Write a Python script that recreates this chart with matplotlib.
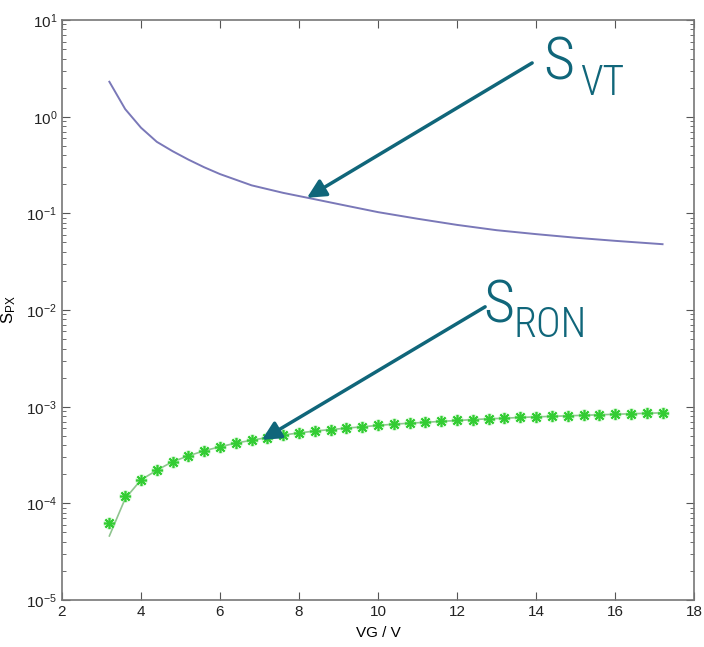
import numpy as np
import matplotlib
matplotlib.use('Agg')
import matplotlib.pyplot as plt
from matplotlib.ticker import LogLocator, NullFormatter

plt.rcParams['font.family'] = ['Liberation Sans', 'DejaVu Sans']

# S_VT curve
vg_vt = [3.2, 3.6, 4.0, 4.4, 4.8, 5.2, 5.6, 6.0, 6.8, 7.6, 8.4, 9.2,
         10.0, 11.0, 12.0, 13.0, 14.0, 15.0, 16.0, 17.2]
s_vt = [2.3, 1.2, 0.77, 0.55, 0.44, 0.36, 0.30, 0.255, 0.195, 0.163, 0.14, 0.12,
        0.103, 0.088, 0.076, 0.067, 0.061, 0.056, 0.052, 0.048]

# S_RON measured points (asterisks) and model line
vg_ron = [3.2, 3.6, 4.0, 4.4, 4.8, 5.2, 5.6, 6.0, 6.4, 6.8, 7.2, 7.6,
          8.0, 8.4, 8.8, 9.2, 9.6, 10.0, 10.4, 10.8, 11.2, 11.6, 12.0, 12.4,
          12.8, 13.2, 13.6, 14.0, 14.4, 14.8, 15.2, 15.6, 16.0, 16.4, 16.8, 17.2]
s_ron_pts = [6.3e-5, 1.2e-4, 1.75e-4, 2.2e-4, 2.7e-4, 3.1e-4, 3.5e-4, 3.85e-4,
             4.2e-4, 4.5e-4, 4.8e-4, 5.1e-4, 5.35e-4, 5.6e-4, 5.8e-4, 6.0e-4,
             6.2e-4, 6.4e-4, 6.6e-4, 6.75e-4, 6.9e-4, 7.05e-4, 7.2e-4, 7.35e-4,
             7.5e-4, 7.6e-4, 7.75e-4, 7.85e-4, 7.95e-4, 8.05e-4, 8.15e-4, 8.25e-4,
             8.35e-4, 8.45e-4, 8.55e-4, 8.65e-4]
s_ron_line = [4.6e-5, 1.12e-4] + s_ron_pts[2:]

x_ticks = [2, 4, 6, 8, 10, 12, 14, 16, 18]

fig = plt.figure(figsize=(7.04, 6.47), dpi=100)
ax = fig.add_axes([0.088, 0.0726, 0.898, 0.8964])

ax.plot(vg_vt, s_vt, color='#7a78b8', lw=1.4)
ax.plot(vg_ron, s_ron_line, color='#8fc48f', lw=1.2)
# soft glow behind the asterisks
ax.plot(vg_ron, s_ron_pts, ls='none', marker='o', ms=9, color='#8fec8f',
        alpha=0.35, mec='none')
ax.plot(vg_ron, s_ron_pts, ls='none', marker=(8, 2, 0), ms=8, mew=1.2,
        color='#33cc33')

ax.set_yscale('log')
ax.set_xlim(2, 18)
ax.set_ylim(1e-5, 10)
ax.set_xticks(x_ticks)
ax.yaxis.set_major_locator(LogLocator(base=10, numticks=10))
ax.yaxis.set_minor_locator(LogLocator(base=10, subs=np.arange(2, 10), numticks=10))
ax.yaxis.set_minor_formatter(NullFormatter())
ax.tick_params(which='both', direction='in', top=True, right=True,
               colors='#555555', labelcolor='#222222', labelsize=11)
ax.tick_params(which='major', length=6)
ax.tick_params(which='minor', length=3)
for sp in ax.spines.values():
    sp.set_color('#777777')
    sp.set_linewidth(1.2)

ax.set_xlabel('VG / V', fontsize=11, labelpad=5)
ax.set_ylabel(r'$\mathregular{S_{PX}}$', fontsize=12, labelpad=6)

teal = '#10667a'
arrow = dict(arrowstyle='-|>', color=teal, lw=2.5, mutation_scale=28,
             shrinkA=0, shrinkB=0)
ax.annotate('', xy=(8.2, 0.145), xytext=(13.9, 3.6), arrowprops=arrow)
ax.annotate('', xy=(7.06, 4.54e-4), xytext=(12.71, 0.0108), arrowprops=arrow)

cond = ['Roboto Condensed', 'Liberation Sans', 'DejaVu Sans']
lbl = dict(color=teal, family=cond, weight='light', va='baseline')
ax.text(14.18, 2.4, 'S', fontsize=43, **lbl)
ax.text(15.11, 1.67, 'VT', fontsize=30, **lbl)
ax.text(12.66, 7.5e-3, 'S', fontsize=43, **lbl)
ax.text(13.42, 5.27e-3, 'RON', fontsize=30, **lbl)

fig.savefig('out.png', dpi=100)
